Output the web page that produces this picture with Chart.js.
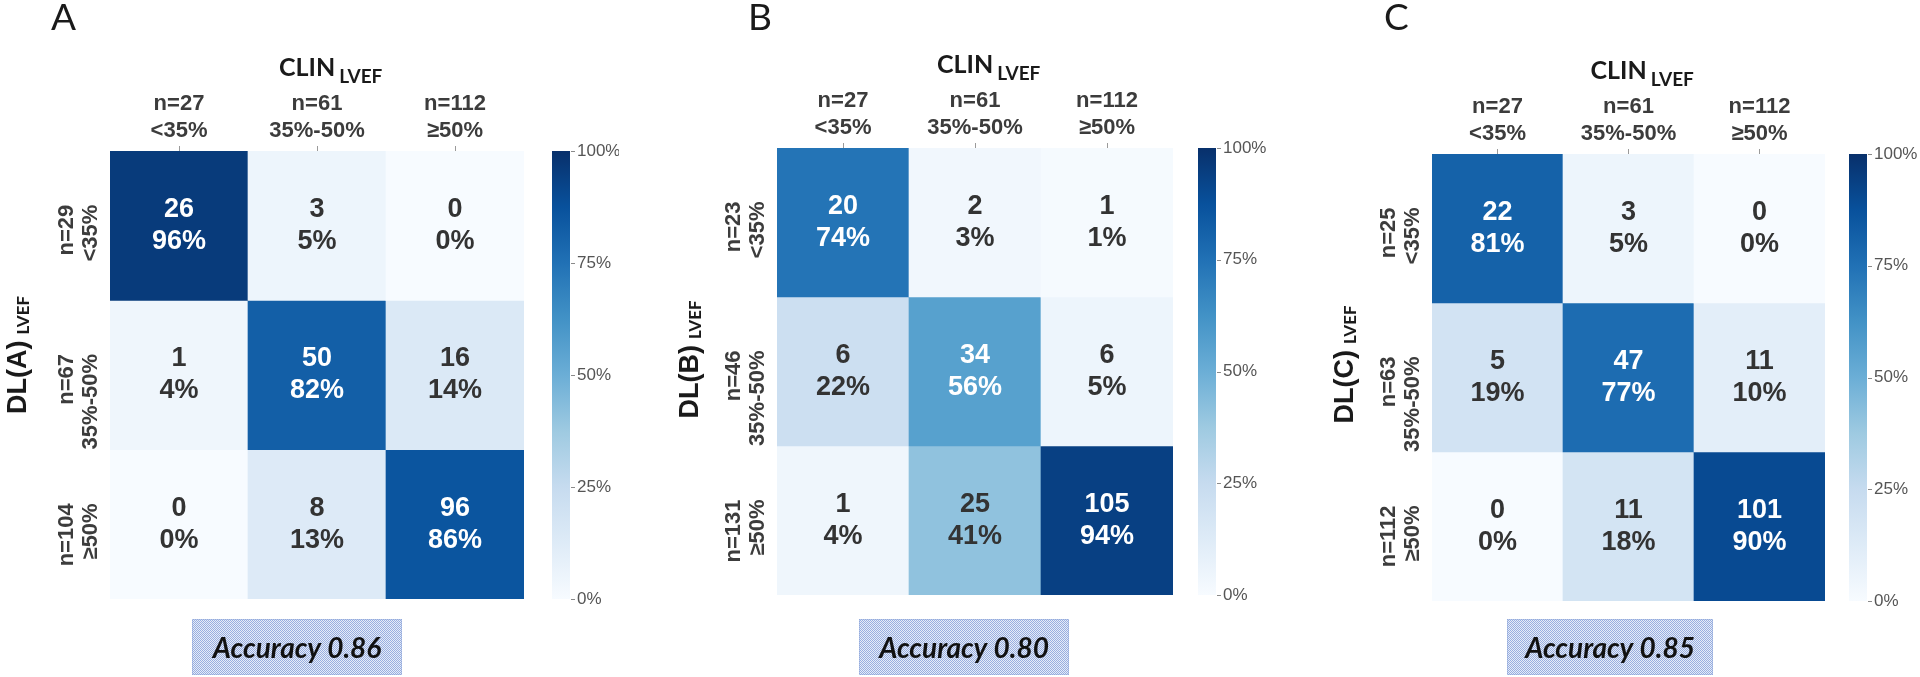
<!DOCTYPE html>
<html><head><meta charset="utf-8">
<script src="https://cdn.jsdelivr.net/npm/chart.js@4.4.1/dist/chart.umd.min.js"></script>
<style>
html,body{margin:0;padding:0;background:#fff;width:1920px;height:677px;overflow:hidden}
canvas{position:absolute;top:0}
</style></head><body>
<canvas id="cA" width="640" height="677" style="left:0px"></canvas>
<canvas id="cB" width="640" height="677" style="left:640px"></canvas>
<canvas id="cC" width="640" height="677" style="left:1280px"></canvas>
<script>
// ---------- data ----------
const colLabels = [['n=27', '<35%'], ['n=61', '35%-50%'], ['n=112', '≥50%']];
const rowLabelsA = [['n=29', '<35%'], ['n=67', '35%-50%'], ['n=104', '≥50%']];
const rowLabelsB = [['n=23', '<35%'], ['n=46', '35%-50%'], ['n=131', '≥50%']];
const rowLabelsC = [['n=25', '<35%'], ['n=63', '35%-50%'], ['n=112', '≥50%']];
const countsA = [[26, 3, 0], [1, 50, 16], [0, 8, 96]];
const pctA = [[96, 5, 0], [4, 82, 14], [0, 13, 86]];
const countsB = [[20, 2, 1], [6, 34, 6], [1, 25, 105]];
const pctB = [[74, 3, 1], [22, 56, 5], [4, 41, 94]];
const countsC = [[22, 3, 0], [5, 47, 11], [0, 11, 101]];
const pctC = [[81, 5, 0], [19, 77, 10], [0, 18, 90]];
const panelLetters = ['A', 'B', 'C'];
const modelNames = ['DL(A)', 'DL(B)', 'DL(C)'];
const accuracy = [0.86, 0.80, 0.85];
const colorbarTicks = [0, 25, 50, 75, 100];
const xTitle = 'CLIN';
const subTitle = 'LVEF';

const rowsAll = [rowLabelsA, rowLabelsB, rowLabelsC];
const countsAll = [countsA, countsB, countsC];
const pctAll = [pctA, pctB, pctC];

// ---------- layout (pixels, local to each 640px canvas) ----------
const layouts = [
  {canvas: 'cA', left: 110, top: 151, right: 524, bottom: 599, letterX: 51, boxL: 192, boxR: 402, cbGap: 28, titleX: 84, titleDy: -20},
  {canvas: 'cB', left: 137, top: 148, right: 533, bottom: 595, letterX: 108, boxL: 219, boxR: 429, cbGap: 25, titleX: 79, titleDy: -12},
  {canvas: 'cC', left: 152, top: 154, right: 545, bottom: 601, letterX: 104, boxL: 227, boxR: 433, cbGap: 24, titleX: 79, titleDy: -13}
];
const FONT = '"Liberation Sans", Arial, sans-serif';
const FONT2 = 'Lato, "Open Sans", sans-serif';

// matplotlib "Blues"
const BLUES = ['#f7fbff', '#deebf7', '#c6dbef', '#9ecae1', '#6baed6', '#4292c6', '#2171b5', '#08519c', '#08306b'];
function hex2rgb(h) { return [1, 3, 5].map(i => parseInt(h.substr(i, 2), 16)); }
function blues(p) {
  const t = Math.max(0, Math.min(1, p / 100)) * 8;
  const i = Math.min(7, Math.floor(t)); const f = t - i;
  const a = hex2rgb(BLUES[i]), b = hex2rgb(BLUES[i + 1]);
  return a.map((v, k) => Math.round(v + (b[k] - v) * f));
}
function css(c) { return 'rgb(' + c.join(',') + ')'; }
function lum(c) {
  const l = c.map(v => { v /= 255; return v <= 0.03928 ? v / 12.92 : Math.pow((v + 0.055) / 1.055, 2.4); });
  return 0.2126 * l[0] + 0.7152 * l[1] + 0.0722 * l[2];
}

function makePattern() {
  const pc = document.createElement('canvas'); pc.width = 2; pc.height = 2;
  const p = pc.getContext('2d');
  p.fillStyle = '#e6ecf8'; p.fillRect(0, 0, 2, 2);
  p.fillStyle = '#98aee0'; p.fillRect(0, 0, 1, 1); p.fillRect(1, 1, 1, 1);
  return pc;
}
const patternCanvas = makePattern();

function makePlugin(i) {
  const L = layouts[i];
  return {
    id: 'heat' + i,
    afterDatasetsDraw(chart) {
      const ctx = chart.ctx;
      ctx.save();
      ctx.textAlign = 'center'; ctx.textBaseline = 'middle';
      ctx.font = 'bold 27px ' + FONT;
      countsAll[i].forEach((row, r) => {
        const meta = chart.getDatasetMeta(r);
        meta.data.forEach((el, c) => {
          const cy = (el.y + el.base) / 2;
          const col = blues(pctAll[i][r][c]);
          ctx.fillStyle = lum(col) < 0.408 ? '#ffffff' : '#333333';
          ctx.fillText(String(row[c]), el.x, cy - 16);
          ctx.fillText(pctAll[i][r][c] + '%', el.x, cy + 16);
        });
      });
      ctx.restore();
    },
    afterDraw(chart) {
      const ctx = chart.ctx, ca = chart.chartArea;
      const ys = chart.scales.y, cb = chart.scales.cb;
      ctx.save();
      // row labels (rotated, ends aligned)
      ctx.fillStyle = '#3c3c3c';
      ctx.font = 'bold 22px ' + FONT;
      ctx.textAlign = 'right'; ctx.textBaseline = 'middle';
      rowsAll[i].forEach((lab, r) => {
        const cy = ys.getPixelForValue(r + 0.5);
        [[lab[0], 43], [lab[1], 19]].forEach(([t, off]) => {
          ctx.save(); ctx.translate(ca.left - off, cy); ctx.rotate(-Math.PI / 2);
          ctx.fillText(t, 21, 0); ctx.restore();
        });
      });
      // y title DL(x) LVEF rotated
      ctx.fillStyle = '#1a1a1a';
      ctx.textAlign = 'left'; ctx.textBaseline = 'alphabetic';
      const mainFont = 'bold 27px ' + FONT, subFont = 'bold 17px ' + FONT2;
      ctx.font = mainFont; const wm = ctx.measureText(modelNames[i]).width;
      ctx.font = subFont; const wsb = ctx.measureText(subTitle).width;
      const tot = wm + 6 + wsb;
      const midY = (ca.top + ca.bottom) / 2 + L.titleDy;
      ctx.save(); ctx.translate(ca.left - L.titleX, midY); ctx.rotate(-Math.PI / 2);
      ctx.font = mainFont; ctx.fillText(modelNames[i], -tot / 2, 0);
      ctx.font = subFont; ctx.fillText(subTitle, -tot / 2 + wm + 6, 3);
      ctx.restore();
      // x title CLIN LVEF
      const cx = (ca.left + ca.right) / 2;
      ctx.font = 'bold 25px ' + FONT2;
      const wc = ctx.measureText(xTitle).width;
      ctx.fillText(xTitle, cx - 38, ca.top - 75);
      ctx.font = 'bold 19px ' + FONT2;
      ctx.fillText(subTitle, cx - 38 + wc + 4, ca.top - 68);
      // panel letter
      ctx.font = '37px ' + FONT2;
      ctx.fillText(panelLetters[i], L.letterX, 30);
      // colorbar
      const x0 = ca.right + L.cbGap, bw = 18;
      const yTop = cb.getPixelForValue(100), yBot = cb.getPixelForValue(0);
      const g = ctx.createLinearGradient(0, yBot, 0, yTop);
      BLUES.forEach((c, k) => g.addColorStop(k / 8, c));
      ctx.fillStyle = g;
      ctx.fillRect(x0, yTop, bw, yBot - yTop);
      ctx.strokeStyle = '#8a8a8a'; ctx.lineWidth = 1;
      colorbarTicks.forEach(v => {
        const yy = Math.round(cb.getPixelForValue(v)) + 0.5;
        ctx.beginPath(); ctx.moveTo(x0 + bw + 1, yy); ctx.lineTo(x0 + bw + 5, yy); ctx.stroke();
      });
      // accuracy box
      const bt = 619, bb = 675;
      ctx.fillStyle = ctx.createPattern(patternCanvas, 'repeat');
      ctx.fillRect(L.boxL, bt, L.boxR - L.boxL, bb - bt);
      ctx.setLineDash([1, 1]); ctx.strokeStyle = '#8ea6da';
      ctx.strokeRect(L.boxL + 0.5, bt + 0.5, L.boxR - L.boxL - 1, bb - bt - 1);
      ctx.setLineDash([]);
      ctx.fillStyle = '#111111';
      ctx.font = 'italic bold 28px ' + FONT2;
      ctx.textAlign = 'center';
      ctx.fillText('Accuracy ' + accuracy[i].toFixed(2), (L.boxL + L.boxR) / 2, 658);
      ctx.restore();
    }
  };
}

function makeChart(i) {
  const L = layouts[i];
  const W = 95, XH = 60, CW = 640, CH = 677;
  const datasets = rowsAll[i].map((lab, r) => ({
    label: lab.join(' '),
    data: colLabels.map(() => 1),
    backgroundColor: pctAll[i][r].map(v => css(blues(v))),
    borderWidth: 0,
    barPercentage: 1,
    categoryPercentage: 1
  }));
  new Chart(document.getElementById(L.canvas), {
    type: 'bar',
    data: {labels: colLabels, datasets: datasets},
    options: {
      responsive: false, animation: false, devicePixelRatio: 1, events: [],
      layout: {padding: {left: L.left, top: L.top - XH, right: CW - W - L.right, bottom: CH - L.bottom}},
      plugins: {legend: {display: false}, tooltip: {enabled: false}, title: {display: false}},
      scales: {
        x: {
          position: 'top', stacked: true, offset: true,
          grid: {display: true, drawOnChartArea: false, drawTicks: true, tickLength: 5, color: '#9a9a9a', offset: false},
          border: {display: false},
          ticks: {font: {family: FONT, size: 22, weight: 'bold', lineHeight: 1.2}, color: '#3c3c3c', padding: 2, maxRotation: 0, minRotation: 0, autoSkip: false},
          afterFit: s => { s.height = XH; }
        },
        y: {type: 'linear', stacked: true, min: 0, max: 3, reverse: true, display: false},
        cb: {
          type: 'linear', position: 'right', display: true, min: 0, max: 100,
          grid: {display: false, drawTicks: false}, border: {display: false},
          afterBuildTicks: s => { s.ticks = colorbarTicks.map(v => ({value: v})); },
          ticks: {callback: v => v + '%', font: {family: FONT, size: 17}, color: '#555555', padding: L.cbGap + 18 + 7},
          afterFit: s => { s.width = W; }
        }
      }
    },
    plugins: [makePlugin(i)]
  });
}
[0, 1, 2].forEach(makeChart);
</script>
</body></html>
